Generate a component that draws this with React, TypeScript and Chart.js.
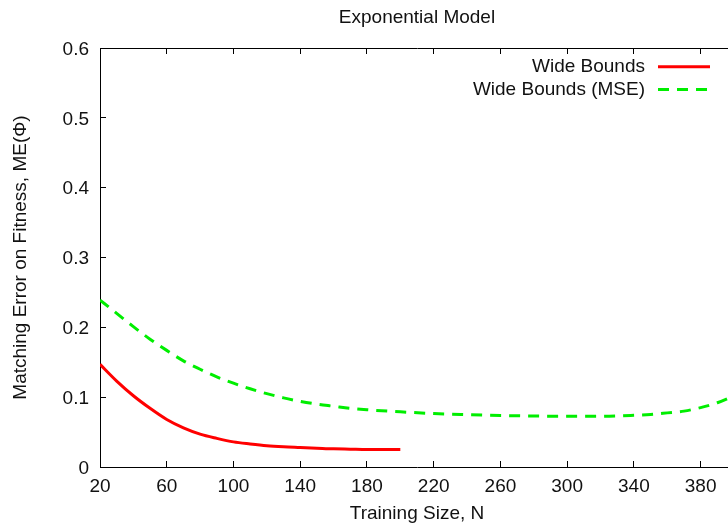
import React, { useEffect, useRef } from "react";
import { Chart, registerables } from "chart.js";

Chart.register(...registerables);

const TITLE = "Exponential Model";
const X_TITLE = "Training Size, N";
const Y_TITLE = "Matching Error on Fitness, ME(Φ)";

const X_MIN = 20;
const X_MAX = 400;
const Y_MIN = 0;
const Y_MAX = 0.6;
const X_TICKS = [20, 60, 100, 140, 180, 220, 260, 300, 340, 380];
const Y_TICKS = [0, 0.1, 0.2, 0.3, 0.4, 0.5, 0.6];

const WIDE_LABEL = "Wide Bounds";
const WIDE_N = [20, 30, 40, 50, 60, 70, 80, 90, 100, 110, 120, 130, 140, 150, 160, 170, 180, 190, 200];
const WIDE_ME = [0.147, 0.123, 0.102, 0.084, 0.068, 0.056, 0.047, 0.041, 0.036, 0.033, 0.0305, 0.029, 0.028, 0.027, 0.026, 0.0255, 0.025, 0.025, 0.025];

const MSE_LABEL = "Wide Bounds (MSE)";
const MSE_N = [20, 30, 40, 50, 60, 70, 80, 90, 100, 110, 120, 130, 140, 150, 160, 170, 180, 200, 220, 240, 260, 280, 300, 320, 340, 350, 360, 370, 380, 390, 400];
const MSE_ME = [0.239, 0.220, 0.201, 0.183, 0.167, 0.152, 0.140, 0.129, 0.120, 0.112, 0.105, 0.099, 0.094, 0.090, 0.087, 0.084, 0.082, 0.079, 0.0765, 0.075, 0.0738, 0.073, 0.0727, 0.0727, 0.074, 0.0752, 0.0775, 0.080, 0.085, 0.092, 0.102];

const FONT = "'Liberation Sans', Arial, Helvetica, sans-serif";
const TEXT_COLOR = "#111";
const FONT_SIZE = 19;

const toPoints = (xs: number[], ys: number[]) => xs.map((x, i) => ({ x, y: ys[i] }));

const titlePlugin = {
  id: "centeredTitle",
  afterDraw(chart: any) {
    const { ctx, chartArea } = chart;
    ctx.save();
    ctx.font = `${FONT_SIZE}px ${FONT}`;
    ctx.fillStyle = TEXT_COLOR;
    ctx.textAlign = "center";
    ctx.textBaseline = "middle";
    ctx.fillText(TITLE, (chartArea.left + chartArea.right) / 2, 17.5);
    ctx.restore();
  },
};

const legendPlugin = {
  id: "insideLegend",
  afterDatasetsDraw(chart: any) {
    const { ctx, chartArea } = chart;
    ctx.save();
    ctx.font = `${FONT_SIZE}px ${FONT}`;
    ctx.textAlign = "right";
    ctx.textBaseline = "middle";
    chart.data.datasets.forEach((ds: any, i: number) => {
      const y = chartArea.top + 18.7 + i * 22.7;
      const lineEnd = chartArea.right - 24;
      const lineStart = lineEnd - 52;
      ctx.fillStyle = TEXT_COLOR;
      ctx.fillText(ds.label, lineStart - 13, y);
      ctx.strokeStyle = ds.borderColor;
      ctx.lineWidth = ds.borderWidth;
      ctx.lineCap = "butt";
      ctx.setLineDash(ds.borderDash || []);
      ctx.beginPath();
      ctx.moveTo(lineStart, y);
      ctx.lineTo(lineEnd, y);
      ctx.stroke();
    });
    ctx.restore();
  },
};

const setTicks = (values: number[]) => (scale: any) => {
  scale.ticks = values.map((v) => ({ value: v }));
};

export default function App() {
  const canvasRef = useRef<HTMLCanvasElement | null>(null);

  useEffect(() => {
    const canvas = canvasRef.current;
    if (!canvas) return;
    const font = { family: FONT, size: FONT_SIZE };
    const gridCommon = {
      drawOnChartArea: false,
      drawTicks: true,
      tickLength: -6,
      color: "#000",
      tickColor: "#000",
      tickWidth: 1,
    };
    const chart = new Chart(canvas, {
      type: "line",
      data: {
        datasets: [
          {
            label: WIDE_LABEL,
            data: toPoints(WIDE_N, WIDE_ME),
            borderColor: "#ff0000",
            backgroundColor: "#ff0000",
            borderWidth: 3,
            pointRadius: 0,
            cubicInterpolationMode: "monotone",
            fill: false,
          },
          {
            label: MSE_LABEL,
            data: toPoints(MSE_N, MSE_ME),
            borderColor: "#00ee00",
            backgroundColor: "#00ee00",
            borderWidth: 3,
            borderDash: [11, 8],
            borderCapStyle: "butt",
            pointRadius: 0,
            cubicInterpolationMode: "monotone",
            fill: false,
          },
        ],
      },
      options: {
        animation: false,
        responsive: false,
        devicePixelRatio: 1,
        layout: { padding: { left: 0, right: 6, top: 0, bottom: 0 } },
        plugins: {
          legend: { display: false },
          title: { display: false },
          tooltip: { enabled: false },
        },
        scales: {
          x: {
            type: "linear",
            position: "bottom",
            min: X_MIN,
            max: X_MAX,
            afterBuildTicks: setTicks(X_TICKS),
            afterFit: (s: any) => { s.height = 61; },
            grid: gridCommon,
            border: { display: true, color: "#000", width: 1 },
            ticks: { color: TEXT_COLOR, font, padding: 14.5, maxRotation: 0, autoSkip: false },
            title: { display: true, text: X_TITLE, color: TEXT_COLOR, font, padding: { top: 0, bottom: 3 } },
          },
          x2: {
            type: "linear",
            position: "top",
            min: X_MIN,
            max: X_MAX,
            afterBuildTicks: setTicks(X_TICKS),
            afterFit: (s: any) => { s.height = 48; },
            grid: gridCommon,
            border: { display: true, color: "#000", width: 1 },
            ticks: { display: false },
          },
          y: {
            type: "linear",
            position: "left",
            min: Y_MIN,
            max: Y_MAX,
            afterBuildTicks: setTicks(Y_TICKS),
            afterFit: (s: any) => { s.width = 100; },
            grid: gridCommon,
            border: { display: true, color: "#000", width: 1 },
            ticks: {
              color: TEXT_COLOR,
              font,
              padding: 17,
              labelOffset: 1.5,
              autoSkip: false,
              callback: (v: any) => String(Math.round(Number(v) * 10) / 10),
            },
            title: { display: true, text: Y_TITLE, color: TEXT_COLOR, font, padding: { top: 9, bottom: 0 } },
          },
          y2: {
            type: "linear",
            position: "right",
            min: Y_MIN,
            max: Y_MAX,
            afterBuildTicks: setTicks(Y_TICKS),
            afterFit: (s: any) => { s.width = 0; },
            grid: gridCommon,
            border: { display: true, color: "#000", width: 1 },
            ticks: { display: false },
          },
        },
      } as any,
      plugins: [titlePlugin, legendPlugin],
    });
    return () => chart.destroy();
  }, []);

  return (
    <div
      style={{
        position: "fixed",
        left: 0,
        top: 0,
        width: 728,
        height: 528,
        overflow: "hidden",
        background: "#fff",
      }}
    >
      <canvas ref={canvasRef} width={740} height={528} style={{ display: "block" }} />
    </div>
  );
}
